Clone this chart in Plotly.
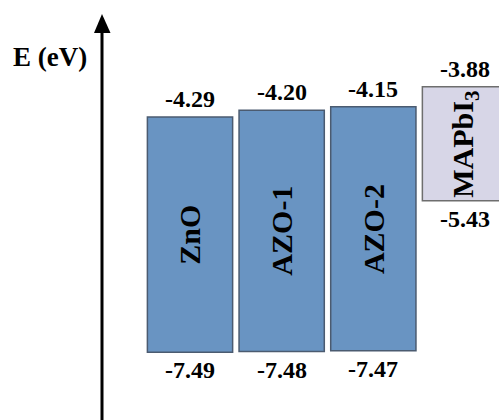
import plotly.graph_objects as go

# Band-edge energies (eV) for each layer
materials = ["ZnO", "AZO-1", "AZO-2", "MAPbI3"]
name_labels = ["ZnO", "AZO-1", "AZO-2", "MAPbI<sub>3</sub>"]
cb_edge = [-4.29, -4.20, -4.15, -3.88]   # upper edge of each box
vb_edge = [-7.49, -7.48, -7.47, -5.43]   # lower edge of each box
fill_colors = ["#6994c2", "#6994c2", "#6994c2", "#d7d6e7"]
edge_colors = ["#4b5b70", "#4b5b70", "#4b5b70", "#6e6e6e"]

W, H = 499, 420
SERIF = "Liberation Serif"

fig = go.Figure()
fig.add_trace(go.Bar(
    x=materials,
    y=[t - b for t, b in zip(cb_edge, vb_edge)],
    base=vb_edge,
    width=0.93,
    marker=dict(color=fill_colors, line=dict(color=edge_colors, width=1.5)),
    hoverinfo="skip",
))

annotations = []
for m, lab, t, b in zip(materials, name_labels, cb_edge, vb_edge):
    # material name, rotated inside the box
    annotations.append(dict(
        x=m, y=(t + b) / 2, xref="x", yref="y", text=f"<b>{lab}</b>",
        textangle=-90, showarrow=False, xanchor="center", yanchor="middle",
        font=dict(family=SERIF, size=30, color="black"),
    ))
    # upper edge value
    annotations.append(dict(
        x=m, y=t, xref="x", yref="y", text=f"<b>{t:.2f}</b>",
        xanchor="center", yanchor="bottom", yshift=3, showarrow=False,
        font=dict(family=SERIF, size=24, color="black"),
    ))
    # lower edge value
    annotations.append(dict(
        x=m, y=b, xref="x", yref="y", text=f"<b>{b:.2f}</b>",
        xanchor="center", yanchor="top", yshift=-3, showarrow=False,
        font=dict(family=SERIF, size=24, color="black"),
    ))

# energy axis title
annotations.append(dict(
    x=50 / W, y=1 - 57 / H, xref="paper", yref="paper", text="<b>E (eV)</b>",
    xanchor="center", yanchor="middle",
    showarrow=False, font=dict(family=SERIF, size=27, color="black"),
))

# energy axis drawn as an arrow
ax_x = 102 / W
shapes = [
    dict(type="line", xref="paper", yref="paper",
         x0=ax_x, x1=ax_x, y0=0, y1=1 - 30 / H,
         line=dict(color="black", width=3)),
    dict(type="path", xref="paper", yref="paper",
         path=f"M {94 / W} {1 - 33 / H} L {110.5 / W} {1 - 33 / H} L {ax_x} {1 - 14 / H} Z",
         fillcolor="black", line=dict(color="black", width=0)),
]

fig.update_layout(
    width=W, height=H,
    margin=dict(l=0, r=0, t=0, b=0),
    paper_bgcolor="white", plot_bgcolor="white",
    showlegend=False,
    annotations=annotations, shapes=shapes,
    xaxis=dict(range=[-2.073, 3.371], visible=False, fixedrange=True),
    yaxis=dict(range=[-8.41, -2.70], visible=False, fixedrange=True),
)

fig.write_html("out.html", config={"displayModeBar": False})
